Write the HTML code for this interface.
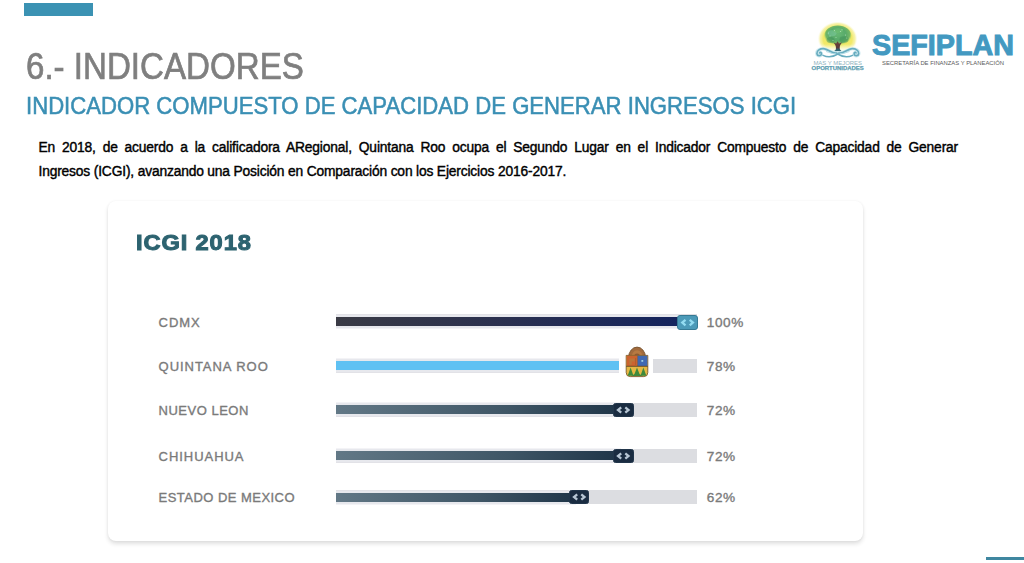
<!DOCTYPE html>
<html lang="es">
<head>
<meta charset="utf-8">
<title>6.- INDICADORES</title>
<style>
html,body{margin:0;padding:0;background:#fff;}
body{width:1024px;height:563px;position:relative;overflow:hidden;font-family:"Liberation Sans",sans-serif;}
.abs{position:absolute;white-space:nowrap;line-height:1;}
#topbar{position:absolute;left:24px;top:2.5px;width:69px;height:13.5px;background:#3b92b3;}
#botbar{position:absolute;left:986px;top:556.5px;width:38px;height:3.5px;background:#3f87a0;}
#title{left:26px;top:47.8px;font-size:37px;color:#7f7f7f;transform:scaleX(0.895);transform-origin:0 0;-webkit-text-stroke:0.7px #7f7f7f;}
#subtitle{left:26px;top:93.6px;font-size:24.2px;color:#3a8fb4;transform:scaleX(0.915);transform-origin:0 0;-webkit-text-stroke:0.55px #3a8fb4;}
.para{position:absolute;left:38.5px;width:919.5px;font-size:13.8px;line-height:23.5px;color:#000;-webkit-text-stroke:0.4px #000;white-space:nowrap;letter-spacing:-0.165px;}
#para1{top:136px;text-align:justify;text-align-last:justify;white-space:normal;}
#para2{top:159.5px;width:auto;}
#card{position:absolute;left:107.5px;top:201px;width:755px;height:340px;border-radius:8px;background:#fff;box-shadow:0 3px 4px rgba(0,0,0,0.12),0 0 3px rgba(0,0,0,0.05);}
#ctitle{left:136.1px;top:233.1px;font-size:21.5px;font-weight:bold;color:#2d6370;letter-spacing:0.8px;-webkit-text-stroke:1px #2d6370;transform:scaleX(1.1);transform-origin:0 0;}
.lab{left:158.6px;font-size:13px;color:#7a7a7a;letter-spacing:0.95px;-webkit-text-stroke:0.35px #7a7a7a;}
.pct{left:706.8px;margin-top:-0.4px;font-size:13.6px;color:#7a7a7a;letter-spacing:0.55px;-webkit-text-stroke:0.35px #7a7a7a;}
.track{position:absolute;left:335.5px;width:361.5px;height:14px;background:#dcdde1;}
.fill{position:absolute;left:335.5px;height:9.2px;box-shadow:0 -2.5px 0 #e7e8ed,0 2.5px 0 #e7e8ed;}
.handle{position:absolute;width:20.5px;height:14px;border-radius:3px;box-sizing:border-box;}
.hd{background:#1a2c41;border:1px solid #22364b;border-radius:2.5px;}
</style>
</head>
<body>
<div id="topbar"></div>
<div id="botbar"></div>

<svg id="logo" style="position:absolute;left:800px;top:10px" width="224" height="80" viewBox="800 10 224 80" font-family="'Liberation Sans',sans-serif">
  <defs>
    <radialGradient id="glow" cx="50%" cy="50%" r="50%">
      <stop offset="0" stop-color="#efe85f" stop-opacity="1"/>
      <stop offset="0.72" stop-color="#f1e968" stop-opacity="1"/>
      <stop offset="0.88" stop-color="#f5ef92" stop-opacity="0.75"/>
      <stop offset="1" stop-color="#fdfbe0" stop-opacity="0"/>
    </radialGradient>
    <radialGradient id="canopy" cx="50%" cy="42%" r="54%">
      <stop offset="0" stop-color="#66b873"/>
      <stop offset="0.55" stop-color="#58aa6a"/>
      <stop offset="0.82" stop-color="#6db565" stop-opacity="0.95"/>
      <stop offset="1" stop-color="#c9e064" stop-opacity="0.15"/>
    </radialGradient>
    <linearGradient id="fade" x1="0" y1="0" x2="0" y2="1">
      <stop offset="0" stop-color="#fff" stop-opacity="0"/>
      <stop offset="0.6" stop-color="#fff" stop-opacity="0.75"/>
      <stop offset="1" stop-color="#fff" stop-opacity="1"/>
    </linearGradient>
    <linearGradient id="trunk" x1="0" y1="0" x2="0" y2="1">
      <stop offset="0" stop-color="#6b4139"/>
      <stop offset="0.62" stop-color="#5b3b3c"/>
      <stop offset="0.85" stop-color="#2f6470"/>
      <stop offset="1" stop-color="#2f6f80"/>
    </linearGradient>
  </defs>
  <ellipse cx="837.6" cy="38.8" rx="20" ry="17.4" fill="url(#glow)"/>
  <rect x="814" y="44" width="48" height="8" fill="url(#fade)"/><rect x="814" y="51.9" width="48" height="6" fill="#fff"/>
  <ellipse cx="837.8" cy="35.8" rx="13.6" ry="10.2" fill="url(#canopy)"/>
  <ellipse cx="832" cy="33.2" rx="4.5" ry="3" fill="#86cfae" opacity="0.4"/>
  <ellipse cx="844" cy="39.5" rx="4.5" ry="3.2" fill="#3f8f58" opacity="0.5"/>
  <ellipse cx="830.5" cy="40" rx="4" ry="3" fill="#3f8f58" opacity="0.45"/>
  <ellipse cx="838" cy="30.5" rx="5" ry="2.4" fill="#74c474" opacity="0.5"/>
  <g fill="#cdeed2" opacity="0.7"><circle cx="830" cy="36" r="0.55"/><circle cx="834.5" cy="30.5" r="0.55"/><circle cx="840.5" cy="31.5" r="0.6"/><circle cx="845.5" cy="35" r="0.55"/><circle cx="836" cy="37.5" r="0.5"/><circle cx="842" cy="29.8" r="0.5"/><circle cx="828.5" cy="33" r="0.5"/><circle cx="846.8" cy="38" r="0.5"/><circle cx="833" cy="40.5" r="0.5"/></g>
  <path d="M835.8 49.6 C836.2 47 836 45.4 833.6 42.4 L836.2 43.6 L837.6 41.2 L839 43.6 L842 42.2 C839.6 45.4 839.6 47 840 49.6 C840.8 50.6 841.6 51 842.4 51.4 L833.2 51.4 C834.2 51 835 50.6 835.8 49.6 Z" fill="url(#trunk)"/>
  <g fill="none" stroke-linecap="round">
    <path d="M837.8 52.6 C832 54 829 49.6 824.4 48.9 C819.8 48.2 816.4 50.6 816.7 53.7 C817 56.4 820.9 56.6 821.5 54.3 C821.9 52.7 820.2 52 819.5 53" stroke="#cfeaf0" stroke-width="3.2"/>
    <path d="M837.8 52.6 C843.6 54 846.6 49.6 851.2 48.9 C855.8 48.2 859.2 50.6 858.9 53.7 C858.6 56.4 854.7 56.6 854.1 54.3 C853.7 52.7 855.4 52 856.1 53" stroke="#cfeaf0" stroke-width="3.2"/>
    <g stroke="#68acbf" stroke-width="1.7">
    <path d="M836.8 53 C832 54 829 49.4 824.6 48.8 C820 48.2 816.6 50.6 816.9 53.6 C817.2 56.2 820.8 56.4 821.4 54.2 C821.8 52.6 820.2 52 819.6 52.9"/>
    <path d="M838.8 53 C843.6 54 846.6 49.4 851 48.8 C855.6 48.2 859 50.6 858.7 53.6 C858.4 56.2 854.8 56.4 854.2 54.2 C853.8 52.6 855.4 52 856 52.9"/>
    <path d="M823 55.4 C828 57.8 833.5 56.8 837.8 54 C842.1 56.8 847.6 57.8 852.6 55.4" stroke-width="1.5"/>
    </g>
    <path d="M826.5 51.6 C829.5 52.2 832 54.2 835.5 53.8" stroke-width="1" stroke="#b4dde7"/>
    <path d="M849.1 51.6 C846.1 52.2 843.6 54.2 840.1 53.8" stroke-width="1" stroke="#b4dde7"/>
  </g>
  <text x="813.4" y="64.9" font-size="4.7" fill="#8fb4c0" textLength="48.6" lengthAdjust="spacingAndGlyphs">MAS Y MEJORES</text>
  <text x="811.6" y="70" font-size="5.2" font-weight="bold" fill="#5f9fb2" stroke="#5f9fb2" stroke-width="0.25" textLength="52.2" lengthAdjust="spacingAndGlyphs">OPORTUNIDADES</text>
  <text x="872" y="54.9" font-size="29.4" font-weight="bold" fill="#4399c1" stroke="#4399c1" stroke-width="1" textLength="142" lengthAdjust="spacingAndGlyphs">SEFIPLAN</text>
  <text x="882" y="64.8" font-size="5.9" fill="#5c5c5c" textLength="122" lengthAdjust="spacingAndGlyphs">SECRETARÍA DE FINANZAS Y PLANEACIÓN</text>
</svg>
<div id="title" class="abs">6.- INDICADORES</div>
<div id="subtitle" class="abs">INDICADOR COMPUESTO DE CAPACIDAD DE GENERAR INGRESOS ICGI</div>
<div id="para1" class="para">En 2018, de acuerdo a la calificadora ARegional, Quintana Roo ocupa el Segundo Lugar en el Indicador Compuesto de Capacidad de Generar</div>
<div id="para2" class="para">Ingresos (ICGI), avanzando una Posición en Comparación con los Ejercicios 2016-2017.</div>

<div id="card"></div>
<div id="ctitle" class="abs">ICGI 2018</div>

<div class="abs lab" id="l1" style="top:316px">CDMX</div>
<div class="abs lab" id="l2" style="top:360px">QUINTANA ROO</div>
<div class="abs lab" id="l3" style="top:404.2px;letter-spacing:0.5px">NUEVO LEON</div>
<div class="abs lab" id="l4" style="top:450px">CHIHUAHUA</div>
<div class="abs lab" id="l5" style="top:491.2px;letter-spacing:0.46px">ESTADO DE MEXICO</div>

<div class="track" style="top:314.2px"></div>
<div class="track" style="top:358.8px"></div>
<div class="track" style="top:402.7px"></div>
<div class="track" style="top:448.9px"></div>
<div class="track" style="top:490px"></div>

<div class="fill" style="top:316.7px;width:345px;background:linear-gradient(90deg,#3a3b45 0%,#2a3050 50%,#14245e 100%)"></div>
<div class="fill" style="top:361.2px;width:283px;background:#5fc1f3"></div>
<div class="fill" style="top:405px;width:285px;background:linear-gradient(90deg,#627886 0%,#3f5666 60%,#1f3548 100%)"></div>
<div class="fill" style="top:451.2px;width:285px;background:linear-gradient(90deg,#627886 0%,#3f5666 60%,#1f3548 100%)"></div>
<div class="fill" style="top:492.7px;width:240px;background:linear-gradient(90deg,#627886 0%,#3f5666 60%,#1f3548 100%)"></div>


<div class="handle" style="left:676.5px;top:314.6px;width:21.5px;height:15px;background:#4b9ab8;border:1.4px solid #357a94;"></div>
<svg class="chev" style="position:absolute;left:676.5px;top:314.6px" width="21.5" height="15" viewBox="0 0 21.5 15"><path d="M8.5 4.9 L5.3 7.6 L8.5 10.3 M12.7 4.9 L15.9 7.6 L12.7 10.3" fill="none" stroke="#93dcf1" stroke-width="2.3" stroke-linejoin="miter"/></svg>

<div class="handle hd" style="left:613.2px;top:403px;"></div>
<svg class="chev" style="position:absolute;left:613.2px;top:403px" width="20.5" height="14" viewBox="0 0 20.5 14"><path d="M8.2 4.3 L5 7 L8.2 9.7 M12.3 4.3 L15.5 7 L12.3 9.7" fill="none" stroke="#b7c6d4" stroke-width="2.3"/></svg>
<div class="handle hd" style="left:613.2px;top:449px;"></div>
<svg class="chev" style="position:absolute;left:613.2px;top:449px" width="20.5" height="14" viewBox="0 0 20.5 14"><path d="M8.2 4.3 L5 7 L8.2 9.7 M12.3 4.3 L15.5 7 L12.3 9.7" fill="none" stroke="#b7c6d4" stroke-width="2.3"/></svg>
<div class="handle hd" style="left:568.8px;top:490.2px;"></div>
<svg class="chev" style="position:absolute;left:568.8px;top:490.2px" width="20.5" height="14" viewBox="0 0 20.5 14"><path d="M8.2 4.3 L5 7 L8.2 9.7 M12.3 4.3 L15.5 7 L12.3 9.7" fill="none" stroke="#b7c6d4" stroke-width="2.3"/></svg>

<div id="qrgap" style="position:absolute;left:619.2px;top:356px;width:33.5px;height:19px;background:#fff;"></div>
<svg id="qr" style="position:absolute;left:622px;top:343px;filter:blur(0.3px)" width="30" height="38" viewBox="622 343 30 38">
  <path d="M628.6 357.5 A8.45 10.4 0 0 1 645.5 357.5 Z" fill="#a26b3d" stroke="#75502d" stroke-width="0.9"/>
  <path d="M631.4 357.5 A5.7 7.2 0 0 1 642.8 357.5 Z" fill="#b77a42"/>
  <path d="M634 357.5 A3.1 4 0 0 1 640.2 357.5 Z" fill="#8e5a34"/>
  <path d="M626.2 355.4 H647.8 V372.6 Q647.8 376.6 643.8 376.6 H630.2 Q626.2 376.6 626.2 372.6 Z" fill="#e6b843" stroke="#7d5a2c" stroke-width="0.9"/>
  <rect x="626.7" y="355.8" width="10.9" height="10.2" fill="#cc632f"/>
  <rect x="637.6" y="355.8" width="9.8" height="10.2" fill="#4069b3"/>
  <path d="M629.2 364.8 V358.6 H634.6 V361.6 H631.8 V364.8 Z" fill="#b9783c" opacity="0.9"/>
  <path d="M635.6 358 V365" stroke="#a85a30" stroke-width="0.8"/>
  <rect x="641.4" y="360" width="1.8" height="1.8" fill="#9fd0e6"/>
  <path d="M637.6 356 V366" stroke="#5a4a55" stroke-width="0.5"/>
  <path d="M630.6 367.4 L633.5 375.8 H627.7 Z M637 367.4 L640.2 375.8 H633.8 Z M643.4 367.4 L646.3 375.8 H640.5 Z" fill="#3f8a3c"/>
  <path d="M631.5 375.9 Q637 371.5 642.5 375.9 Z" fill="#3f8a3c"/>
  <path d="M626.2 366.3 H647.8" stroke="#5d4425" stroke-width="0.9"/>
</svg>
<div class="abs pct" id="p1" style="top:316px">100%</div>
<div class="abs pct" id="p2" style="top:360px">78%</div>
<div class="abs pct" id="p3" style="top:404px">72%</div>
<div class="abs pct" id="p4" style="top:450px">72%</div>
<div class="abs pct" id="p5" style="top:491px">62%</div>
</body>
</html>
